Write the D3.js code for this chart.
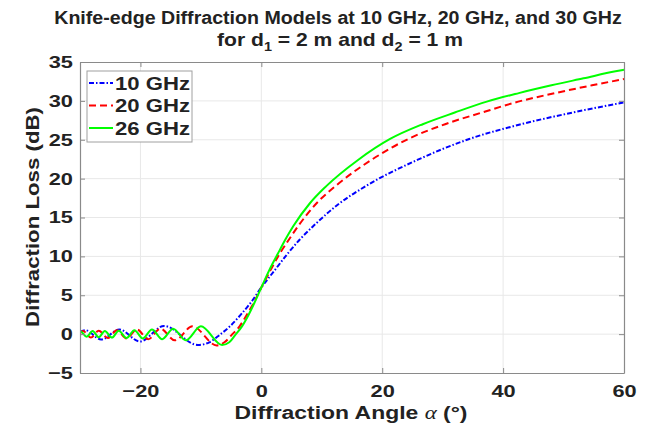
<!DOCTYPE html>
<html>
<head>
<meta charset="utf-8">
<script src="https://cdn.jsdelivr.net/npm/d3@7"></script>
<style>
  body { margin: 0; background: #fff; }
  text { font-family: "Liberation Sans", Arial, sans-serif; font-weight: bold; fill: #222; }
</style>
</head>
<body>
<div id="chart"></div>
<script>
// values (angle in degrees, loss in dB)
const angle10 = [-30, -29.1, -26.5, -23.5, -20.1, -16.1, -10.5, -8.6, -6.9, -5.2, -3.4, -1.7, 0, 2.2, 4.3, 6.4, 8.6, 12.9, 17.2, 25.8, 34.4, 43.0, 51.5, 60];
const loss10  = [0.3, 0.5, -0.7, 0.6, -0.95, 1.05, -1.4, -1.05, -0.1, 1.0, 2.5, 4.1, 6.0, 8.2, 10.3, 12.2, 13.9, 16.8, 19.0, 22.4, 25.1, 27.0, 28.5, 29.8];

const angle20 = [-30, -29.5, -28.2, -26.9, -25.4, -23.9, -22.3, -20.6, -18.7, -16.7, -14.3, -11.4, -7.4, -6.1, -4.9, -3.6, -2.4, -1.2, 0, 1.5, 3.0, 4.6, 6.1, 9.1, 12.2, 18.2, 24.3, 30.4, 36.5, 42.5, 48.6, 54.7, 60];
const loss20  = [0.1, 0.4, -0.45, 0.45, -0.5, 0.5, -0.55, 0.6, -0.65, 0.7, -0.8, 1.0, -1.45, -1.05, -0.1, 1.0, 2.5, 4.1, 6.0, 8.2, 10.3, 12.2, 13.9, 16.8, 19.0, 22.4, 25.1, 27.0, 28.5, 29.9, 31.0, 32.0, 32.8];

const angle26 = [-30, -29.9, -28.9, -27.9, -26.9, -25.9, -24.7, -23.6, -22.3, -21.0, -19.6, -18.1, -16.4, -14.6, -12.5, -10.0, -6.5, -5.3, -4.3, -3.2, -2.1, -1.1, 0, 1.3, 2.7, 4.0, 5.3, 8.0, 10.7, 16.0, 21.3, 26.7, 32.0, 37.3, 42.6, 48.0, 53.3, 58.6, 60];
const loss26  = [0.3, 0.35, -0.35, 0.4, -0.4, 0.4, -0.45, 0.45, -0.5, 0.5, -0.55, 0.6, -0.65, 0.7, -0.8, 1.0, -1.4, -1.05, -0.1, 1.0, 2.5, 4.1, 6.0, 8.2, 10.3, 12.2, 13.9, 16.8, 19.0, 22.4, 25.1, 27.0, 28.5, 29.9, 31.0, 32.0, 32.9, 33.8, 34.0];

const seriesNames = ["10 GHz", "20 GHz", "26 GHz"];
const xTicks = [-20, 0, 20, 40, 60];
const yTicks = [-5, 0, 5, 10, 15, 20, 25, 30, 35];

// 1. SVG
const width = 672, height = 426;
const svg = d3.select("#chart").append("svg")
  .attr("width", width)
  .attr("height", height);

const margin = { top: 62, left: 80, right: 48, bottom: 53 };

// 2. SCALES
const xScale = d3.scaleLinear().domain([-30, 60]).range([margin.left, width - margin.right]);
const yScale = d3.scaleLinear().domain([-5, 35]).range([height - margin.bottom, margin.top]);

const series = [
  { name: seriesNames[0], x: angle10, y: loss10, color: "#0000ff", dash: "5,2,1.5,2" },
  { name: seriesNames[1], x: angle20, y: loss20, color: "#ff0000", dash: "7,4" },
  { name: seriesNames[2], x: angle26, y: loss26, color: "#00ff00", dash: null }
];

// squeeze / stretch a text horizontally to a measured width
function fitText(sel, target, pre) {
  const w = sel.node().getComputedTextLength();
  sel.attr("transform", `${pre} scale(${target / w},1)`);
}

// 3. GRID
const x0 = xScale(-30), x1 = xScale(60), y0 = yScale(-5), y1 = yScale(35);
svg.append("g").selectAll("line")
  .data(xTicks.filter(d => d > -30 && d < 60))
  .enter().append("line")
  .attr("x1", d => xScale(d)).attr("x2", d => xScale(d))
  .attr("y1", y0).attr("y2", y1)
  .attr("stroke", "#e8e8e8").attr("stroke-width", 1);
svg.append("g").selectAll("line")
  .data(yTicks.filter(d => d > -5 && d < 35))
  .enter().append("line")
  .attr("x1", x0).attr("x2", x1)
  .attr("y1", d => yScale(d)).attr("y2", d => yScale(d))
  .attr("stroke", "#e8e8e8").attr("stroke-width", 1);

// 4. LINES
const line = d3.line()
  .x(d => xScale(d[0]))
  .y(d => yScale(d[1]))
  .curve(d3.curveMonotoneX);

svg.append("defs").append("clipPath").attr("id", "clip")
  .append("rect").attr("x", x0).attr("y", y1).attr("width", x1 - x0).attr("height", y0 - y1);

svg.append("g").attr("clip-path", "url(#clip)")
  .selectAll("path")
  .data(series)
  .enter().append("path")
  .attr("d", s => line(s.x.map((a, i) => [a, s.y[i]])))
  .attr("fill", "none")
  .attr("stroke", s => s.color)
  .attr("stroke-width", 2)
  .attr("stroke-dasharray", s => s.dash);

// 5. AXES (box with inward ticks on all sides)
const axisColor = "#8a8a8a";
const axBottom = svg.append("g").attr("transform", `translate(0,${y0})`)
  .call(d3.axisBottom(xScale).tickValues(xTicks).tickSizeInner(-5).tickSizeOuter(0).tickPadding(12));
const axTop = svg.append("g").attr("transform", `translate(0,${y1})`)
  .call(d3.axisTop(xScale).tickValues(xTicks).tickSizeInner(-5).tickSizeOuter(0).tickFormat(""));
const axLeft = svg.append("g").attr("transform", `translate(${x0},0)`)
  .call(d3.axisLeft(yScale).tickValues(yTicks).tickSizeInner(-5).tickSizeOuter(0).tickPadding(5.5));
const axRight = svg.append("g").attr("transform", `translate(${x1},0)`)
  .call(d3.axisRight(yScale).tickValues(yTicks).tickSizeInner(-5).tickSizeOuter(0).tickFormat(""));

[axBottom, axTop, axLeft, axRight].forEach(g => {
  g.select(".domain").attr("stroke", axisColor).attr("stroke-width", 1.2);
  g.selectAll(".tick line").attr("stroke", axisColor);
  g.selectAll(".tick text")
    .style("font-family", "\"Liberation Sans\", Arial, sans-serif")
    .style("font-weight", "bold")
    .attr("font-size", 17)
    .attr("fill", "#222")
    .attr("transform", "scale(1.28,1)");
});

// 6. LEGEND
const legend = svg.append("g").attr("class", "legend");
legend.append("rect")
  .attr("x", 87).attr("y", 71).attr("width", 105).attr("height", 71)
  .attr("fill", "#fff").attr("stroke", "#a0a0a0").attr("stroke-width", 1);

const items = legend.selectAll("g.item")
  .data(series)
  .enter().append("g")
  .attr("transform", (d, i) => `translate(89, ${83 + i * 22.5})`);
items.append("line")
  .attr("x1", 0).attr("x2", 24).attr("y1", 0).attr("y2", 0)
  .attr("stroke", d => d.color).attr("stroke-width", 2)
  .attr("stroke-dasharray", d => d.dash);
items.append("text")
  .attr("dy", "0.36em")
  .attr("font-size", 18.5)
  .text(d => d.name)
  .each(function() { fitText(d3.select(this), 75, "translate(26,0)"); });

// 7. TITLE AND AXIS LABELS
const t1 = svg.append("text")
  .attr("text-anchor", "middle")
  .attr("font-size", 19)
  .text("Knife-edge Diffraction Models at 10 GHz, 20 GHz, and 30 GHz");
fitText(t1, 568, "translate(338,24)");

const t2 = svg.append("text")
  .attr("text-anchor", "middle")
  .attr("font-size", 19);
t2.append("tspan").text("for d");
t2.append("tspan").attr("dy", 5).attr("font-size", 13).text("1");
t2.append("tspan").attr("dy", -5).text(" = 2 m and d");
t2.append("tspan").attr("dy", 5).attr("font-size", 13).text("2");
t2.append("tspan").attr("dy", -5).text(" = 1 m");
fitText(t2, 246, "translate(340,46)");

const xl = svg.append("text")
  .attr("text-anchor", "middle")
  .attr("font-size", 19);
xl.append("tspan").text("Diffraction Angle ");
xl.append("tspan")
  .style("font-family", "\"Liberation Serif\", serif")
  .style("font-style", "italic")
  .style("font-weight", "normal")
  .text("α");
xl.append("tspan").text(" (°)");
fitText(xl, 233, "translate(351,419)");

const yl = svg.append("text")
  .attr("text-anchor", "middle")
  .attr("font-size", 19)
  .text("Diffraction Loss (dB)");
fitText(yl, 220, "translate(39,217) rotate(-90)");
</script>
</body>
</html>
